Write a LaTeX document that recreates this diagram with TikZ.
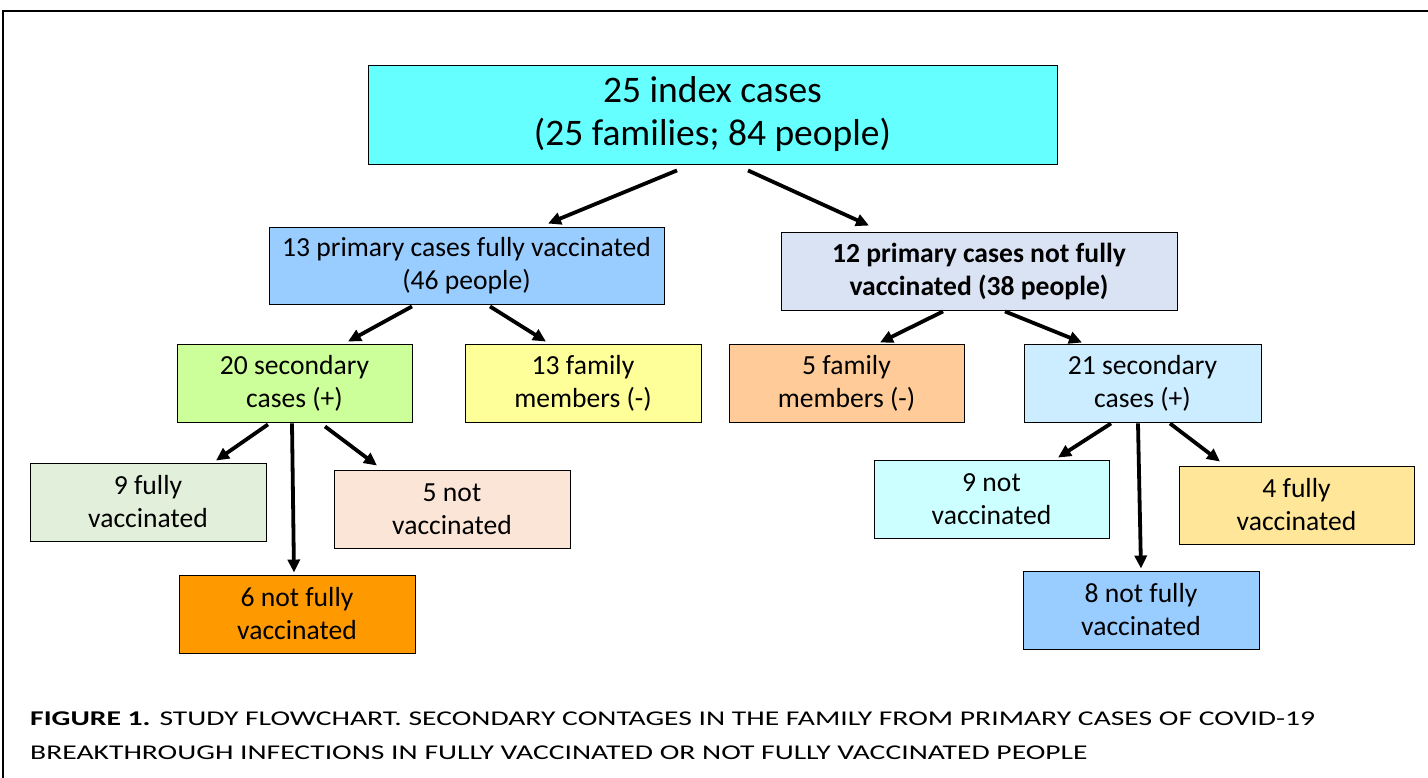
\documentclass[tikz,border=0pt]{standalone}
\usepackage{fontspec}
\setmainfont{Carlito}
\newfontfamily\capfont[FakeStretch=1.41]{Carlito}
\usetikzlibrary{arrows.meta}
\definecolor{idxcol}{HTML}{66FFFF}
\definecolor{fvcol}{HTML}{99CCFF}
\definecolor{nfvcol}{HTML}{DAE3F3}
\definecolor{seccol}{HTML}{CCFF99}
\definecolor{famcol}{HTML}{FFFF99}
\definecolor{famcolb}{HTML}{FFCC99}
\definecolor{seccolb}{HTML}{CCECFF}
\definecolor{fvninecol}{HTML}{E2EFDA}
\definecolor{nvfivecol}{HTML}{FBE5D6}
\definecolor{nfvsixcol}{HTML}{FF9900}
\definecolor{nvninecol}{HTML}{CCFFFF}
\definecolor{fvfourcol}{HTML}{FFE699}

\begin{document}
\begin{tikzpicture}
[every node/.style={inner sep=0pt},
 box/.style={rectangle, draw=black, line width=0.9pt, align=center, font=\fontsize{27.6}{33}\selectfont},
 arr/.style={line width=3.8pt, -{Triangle[length=13pt,width=12pt]}}]
\useasboundingbox (0pt,0pt) rectangle (1428pt,-778pt);
\draw [line width=2.4pt] (3pt,-800pt) -- (3pt,-11pt) -- (1440pt,-11pt);
\node (idx) [box, minimum width=689pt, minimum height=99pt, fill=idxcol, font=\fontsize{37.5}{43}\selectfont] at (712.5pt, -114.5pt) {25 index cases\\(25 families; 84 people)};
\node (fv) [box, minimum width=395pt, minimum height=77pt, fill=fvcol] at (466.5pt, -265.5pt) {13 primary cases fully vaccinated\\(46 people)};
\node (nfv) [box, minimum width=396pt, minimum height=78pt, fill=nfvcol, font=\fontsize{27.6}{33}\selectfont\bfseries] at (979.0pt, -271.0pt) {12 primary cases not fully\\vaccinated (38 people)};
\node (sec20) [box, minimum width=235pt, minimum height=78pt, fill=seccol] at (294.5pt, -383.0pt) {20 secondary\\cases (+)};
\node (fam13) [box, minimum width=236pt, minimum height=78pt, fill=famcol] at (583.0pt, -383.0pt) {13 family\\members (-)};
\node (fam5) [box, minimum width=235pt, minimum height=78pt, fill=famcolb] at (846.5pt, -383.0pt) {5 family\\members (-)};
\node (sec21) [box, minimum width=237pt, minimum height=78pt, fill=seccolb] at (1142.5pt, -383.0pt) {21 secondary\\cases (+)};
\node (fv9) [box, minimum width=236pt, minimum height=78pt, fill=fvninecol] at (148.0pt, -502.0pt) {9 fully\\vaccinated};
\node (nv5) [box, minimum width=236pt, minimum height=78pt, fill=nvfivecol] at (452.0pt, -509.0pt) {5 not\\vaccinated};
\node (nfv6) [box, minimum width=236pt, minimum height=78pt, fill=nfvsixcol] at (297.0pt, -614.0pt) {6 not fully\\vaccinated};
\node (nv9) [box, minimum width=235pt, minimum height=78pt, fill=nvninecol] at (991.5pt, -499.0pt) {9 not\\vaccinated};
\node (fv4) [box, minimum width=235pt, minimum height=78pt, fill=fvfourcol] at (1296.5pt, -505.0pt) {4 fully\\vaccinated};
\node (nfv8) [box, minimum width=236pt, minimum height=78pt, fill=fvcol] at (1141.0pt, -610.0pt) {8 not fully\\vaccinated};
\draw [arr] ([xshift=-35.5pt,yshift=-6pt]idx.south) to ([xshift=81.5pt,yshift=3pt]fv.north);
\draw [arr] ([xshift=35.5pt,yshift=-6pt]idx.south) to ([xshift=-110pt,yshift=6pt]nfv.north);
\draw [arr] ([xshift=-54.5pt,yshift=-2pt]fv.south) to ([xshift=53.5pt,yshift=2pt]sec20.north);
\draw [arr] ([xshift=23.5pt,yshift=-2pt]fv.south) to ([xshift=-37pt,yshift=2pt]fam13.north);
\draw [arr] ([xshift=-36pt,yshift=-1pt]nfv.south) to ([xshift=33.5pt,yshift=1pt]fam5.north);
\draw [arr] ([xshift=26pt,yshift=-1pt]nfv.south) to ([xshift=-60.5pt,yshift=1pt]sec21.north);
\draw [arr] ([xshift=-26.5pt,yshift=-2pt]sec20.south) to ([xshift=68pt,yshift=2pt]fv9.north);
\draw [arr] ([xshift=-2.5pt,yshift=-1pt]sec20.south) to ([xshift=-3pt,yshift=2pt]nfv6.north);
\draw [arr] ([xshift=30.5pt,yshift=-4pt]sec20.south) to ([xshift=-75pt,yshift=4pt]nv5.north);
\draw [arr] ([xshift=-31.5pt,yshift=-1pt]sec21.south) to ([xshift=66.5pt,yshift=2pt]nv9.north);
\draw [arr] ([xshift=-4.5pt,yshift=-1pt]sec21.south) to ([yshift=2pt]nfv8.north);
\draw [arr] ([xshift=27.5pt,yshift=-1pt]sec21.south) to ([xshift=-76.5pt,yshift=4pt]fv4.north);
\node (cap) [anchor=west, align=left, font=\capfont\fontsize{21}{34}\selectfont] at (30pt, -736pt) {\textbf{FIGURE 1.} STUDY FLOWCHART. SECONDARY CONTAGES IN THE FAMILY FROM PRIMARY CASES OF COVID-19\\BREAKTHROUGH INFECTIONS IN FULLY VACCINATED OR NOT FULLY VACCINATED PEOPLE};
\end{tikzpicture}
\end{document}
